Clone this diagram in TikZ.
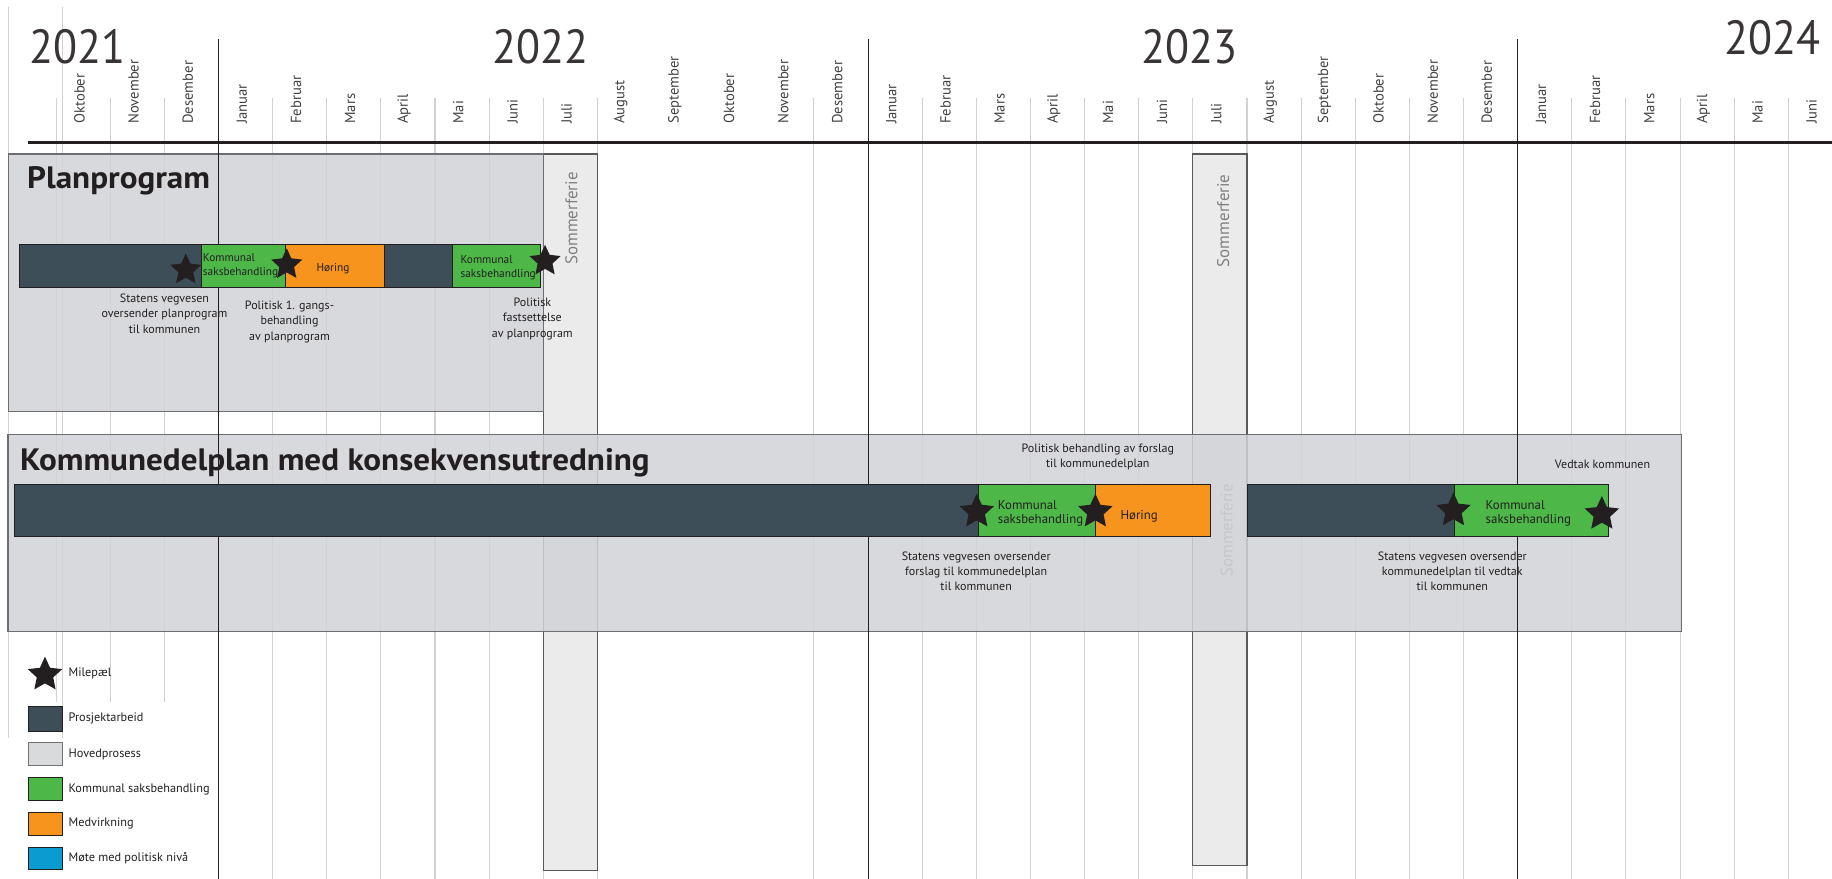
\documentclass[tikz,border=0pt]{standalone}
\usepackage{fontspec}
\setmainfont{PT Sans}
\usetikzlibrary{shapes.geometric}
\definecolor{slate}{HTML}{3D4E59}
\definecolor{kgreen}{HTML}{4DB848}
\definecolor{korange}{HTML}{F7941E}
\definecolor{kblue}{HTML}{0A9BD0}
\definecolor{boxgrey}{HTML}{D2D3D6}
\definecolor{legboxgrey}{HTML}{D9DADC}
\definecolor{colgrey}{HTML}{EBEBEB}
\definecolor{gridgrey}{HTML}{D2D2D2}
\definecolor{ink}{HTML}{231F20}
\definecolor{bordergrey}{HTML}{6D6E71}
\begin{document}
\begin{tikzpicture}[x=1pt,y=-1pt,
  gridline/.style={draw=gridgrey,line width=0.9pt},
  yearline/.style={draw=ink,line width=1pt},
  monthlbl/.style={rotate=90,anchor=west,inner sep=0pt,font=\fontsize{12.5}{14}\selectfont,text=ink!85},
  yearlbl/.style={inner sep=0pt,font=\fontsize{41}{45}\selectfont,text=ink!90},
  ferie/.style={draw=bordergrey!80!black,line width=0.9pt,fill=colgrey},
  ferietxt/.style={rotate=90,inner sep=0pt,font=\fontsize{14.5}{16}\selectfont,text=black!50},
  mainbox/.style={draw=bordergrey,line width=1pt,fill=boxgrey,fill opacity=0.85},
  seg/.style={draw=ink,line width=0.7pt},
  proj/.style={seg,fill=slate},
  saks/.style={seg,fill=kgreen},
  medv/.style={seg,fill=korange},
  milestone/.style={star,star points=5,star point ratio=2.1,fill=ink,draw=none,inner sep=0pt,minimum size=30pt},
  titletxt/.style={inner sep=0pt,anchor=base west,text=ink,font=\fontsize{26.5}{30}\selectfont\bfseries},
  lbl/.style={align=center,inner sep=0pt,font=\fontsize{10.3}{13.2}\selectfont,text=ink},
  bartxtS/.style={align=left,inner sep=0pt,font=\fontsize{9.7}{11.7}\selectfont,text=ink},
  bartxtL/.style={align=left,inner sep=0pt,font=\fontsize{11}{12}\selectfont,text=ink},
  legtxt/.style={anchor=west,inner sep=0pt,font=\fontsize{10.5}{12}\selectfont,text=ink}
]
\useasboundingbox (0,0) rectangle (1568,752);
\fill[white] (0,0) rectangle (1568,752);

% ---------- month grid ----------
\draw[gridline] (7.3,5.7) -- (7.3,632);
\draw[gridline] (53.7,5.7) -- (53.7,632);
\foreach \m in {-3,-2,-1}
  \draw[gridline] ({187+46.33*\m},84) -- ({187+46.33*\m},601);
\foreach \m in {1,2,3,4,5,6,7,11,13,14,15,16,17,18,19,20,21,22,23,25,26,27,28,29}
  \draw[gridline] ({187+46.33*\m},84) -- ({187+46.33*\m},752);

% ---------- month labels ----------
\foreach \m/\n [count=\i] in {-3/Oktober,-2/November,-1/Desember,0/Januar,1/Februar,2/Mars,3/April,4/Mai,5/Juni,6/Juli,7/August,8/September,9/Oktober,10/November,11/Desember,12/Januar,13/Februar,14/Mars,15/April,16/Mai,17/Juni,18/Juli,19/August,20/September,21/Oktober,22/November,23/Desember,24/Januar,25/Februar,26/Mars,27/April,28/Mai,29/Juni}
  \node[monthlbl] (mon\i) at ({187+46.33*\m+20},106) {\n};

% ---------- years ----------
\node[yearlbl,anchor=base west] (y2021) at (25,54) {\scalebox{0.92}[1]{2021}};
\node[yearlbl,anchor=base east] (y2022) at (504,54) {\scalebox{0.92}[1]{2022}};
\node[yearlbl,anchor=base east] (y2023) at (1059.6,54) {\scalebox{0.92}[1]{2023}};
\node[yearlbl,anchor=base east] (y2024) at (1558,47) {\scalebox{0.92}[1]{2024}};

% ---------- summer holidays ----------
\draw[ferie] (465,131.8) rectangle (511.3,745);
\node[ferietxt] (sf1) at (489,187) {Sommerferie};
\draw[ferie] (1021,131.8) rectangle (1067.3,740.6);
\node[ferietxt] (sf2) at (1047,189) {Sommerferie};
\node[ferietxt] (sf3) at (1050,454) {Sommerferie};

% ---------- main boxes ----------
\path[mainbox] (7.4,131.8) rectangle (465,352);
\path[mainbox] (6.9,371.6) rectangle (1439,540.8);

% ---------- year lines and axis ----------
\draw[yearline] (187,33.7) -- (187,752);
\draw[yearline] (743,33.7) -- (743,752);
\draw[yearline] (1299,33.7) -- (1299,752);
\draw[ink,line width=2.6pt] (23.7,121.7) -- (1568,121.7);

% ---------- titles ----------
\node[titletxt] (t1) at (23,161.2) {\scalebox{1.07}[1]{Planprogram}};
\node[titletxt] (t2) at (17,402.4) {\scalebox{1.07}[1]{Kommunedelplan med konsekvensutredning}};

% ---------- Planprogram bar ----------
\path[proj] (17,209.2) rectangle (172,245.7);
\path[saks] (172,209.2) rectangle (244.5,245.7);
\path[medv] (244.5,209.2) rectangle (329,245.7);
\path[proj] (329,209.2) rectangle (387,245.7);
\path[saks] (387,209.2) rectangle (462.7,245.7);
\node[bartxtS,anchor=west] (pb1) at (173.5,227.6) {Kommunal\\saksbehandling};
\node[bartxtS] (pb2) at (285,229.6) {Høring};
\node[bartxtS,anchor=west] (pb3) at (394,229) {Kommunal\\saksbehandling};
\node[milestone,minimum size=28pt] (ps1) at (159,231) {};
\node[milestone,minimum size=28pt] (ps2) at (245.4,226.5) {};
\node[milestone,minimum size=28pt] (ps3) at (466.5,223.5) {};
\node[lbl] (pl1) at (140.8,268.3) {Statens vegvesen\\oversender planprogram\\til kommunen};
\node[lbl] (pl2) at (247.8,275.4) {Politisk 1. gangs-\\behandling\\av planprogram};
\node[lbl] (pl3) at (455.6,273) {Politisk\\fastsettelse\\av planprogram};

% ---------- Kommunedelplan bar ----------
\path[proj] (12.6,415) rectangle (837,458.8);
\path[saks] (837,415) rectangle (937.5,458.8);
\path[medv] (937.5,415) rectangle (1036,458.8);
\path[proj] (1068,415) rectangle (1244.6,458.8);
\path[saks] (1244.6,415) rectangle (1377,458.8);
\node[bartxtL,anchor=west] (kb1) at (853.9,439) {Kommunal\\saksbehandling};
\node[bartxtL] (kb2) at (975,441.5) {Høring};
\node[bartxtL,anchor=west] (kb3) at (1271.4,439) {Kommunal\\saksbehandling};
\node[milestone,minimum size=31pt] (ks1) at (836,438) {};
\node[milestone,minimum size=31pt] (ks2) at (937.5,438) {};
\node[milestone,minimum size=31pt] (ks3) at (1244,437) {};
\node[milestone,minimum size=31pt] (ks4) at (1371,440) {};
\node[lbl] (kl1) at (939.6,391) {Politisk behandling av forslag\\til kommunedelplan};
\node[lbl] (kl2) at (1371.6,397.5) {Vedtak kommunen};
\node[lbl] (kl3) at (835.5,489) {Statens vegvesen oversender\\forslag til kommunedelplan\\til kommunen};
\node[lbl] (kl4) at (1243,489) {Statens vegvesen oversender\\kommunedelplan til vedtak\\til kommunen};

% ---------- legend ----------
\node[milestone,minimum size=31pt] (lgs) at (38.5,577.5) {};
\node[legtxt] (lg0) at (58.5,576.5) {Milepæl};
\path[proj] (24.3,605) rectangle (53.4,625.6);
\node[legtxt] (lg1) at (58.5,615.3) {Prosjektarbeid};
\path[draw=black!55,line width=0.7pt,fill=legboxgrey] (24.3,635.5) rectangle (53.4,655);
\node[legtxt] (lg2) at (58.5,645.3) {Hovedprosess};
\path[saks] (24.3,665.5) rectangle (53.4,685);
\node[legtxt] (lg3) at (58.5,675.3) {Kommunal saksbehandling};
\path[medv] (24.3,695) rectangle (53.4,715);
\node[legtxt] (lg4) at (58.5,705) {Medvirkning};
\path[seg,fill=kblue] (24.3,725) rectangle (53.4,744);
\node[legtxt] (lg5) at (58.5,734.5) {Møte med politisk nivå};
\end{tikzpicture}
\end{document}
